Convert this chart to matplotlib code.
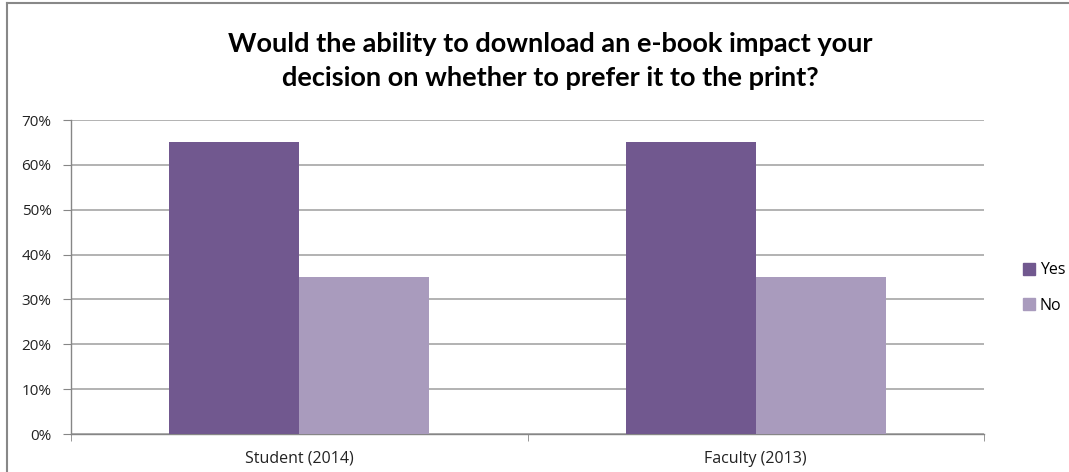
import matplotlib
matplotlib.use("Agg")
import matplotlib.pyplot as plt
import numpy as np
from matplotlib.lines import Line2D

categories = ["Student (2014)", "Faculty (2013)"]
series_names = ["Yes", "No"]
yes_values = [0.65, 0.65]
no_values = [0.35, 0.35]
y_ticks = [0, 0.1, 0.2, 0.3, 0.4, 0.5, 0.6, 0.7]
y_tick_labels = ["0%", "10%", "20%", "30%", "40%", "50%", "60%", "70%"]
title = "Would the ability to download an e-book impact your\ndecision on whether to prefer it to the print?"

colors = ["#71588F", "#A99BBD"]

fig = plt.figure(figsize=(10.69, 4.72), dpi=100)
ax = fig.add_axes([71/1069, 1-434/472, (984-71)/1069, (434-120)/472])

x = np.arange(len(categories))
w = 0.285
ax.bar(x - w/2, yes_values, width=w, color=colors[0], label=series_names[0], zorder=3)
ax.bar(x + w/2, no_values, width=w, color=colors[1], label=series_names[1], zorder=3)

ax.set_xlim(-0.5, len(categories) - 0.5)
ax.set_ylim(0, 0.7)
ax.set_yticks(y_ticks)
ax.set_yticklabels(y_tick_labels, fontsize=11, family="Open Sans", color="#222222")
ax.set_xticks(x)
ax.set_xticklabels(categories, fontsize=11.5, family="Open Sans", color="#222222")
ax.set_xticks(np.arange(-0.5, len(categories), 1.0), minor=True)
ax.tick_params(axis="x", which="major", length=0, pad=12)
ax.tick_params(axis="x", which="minor", length=5, color="#868686", direction="out")
ax.tick_params(axis="y", length=6, color="#868686", direction="out", pad=8)

ax.grid(axis="y", color="#A6A6A6", linewidth=1.2, zorder=0)
for s in ["top", "right"]:
    ax.spines[s].set_visible(False)
for s in ["left", "bottom"]:
    ax.spines[s].set_color("#868686")
    ax.spines[s].set_linewidth(1.0)

handles = [Line2D([0], [0], marker="s", linestyle="", markersize=8,
                  markerfacecolor=c, markeredgecolor=c) for c in colors]
leg = fig.legend(handles, series_names, loc="center left",
                 bbox_to_anchor=(1008/1069, 1-288/472), frameon=False,
                 prop={"family": "Open Sans", "size": 11.5},
                 handlelength=0.8, handletextpad=0.3, labelspacing=1.2)

fig.text(550/1069, 1-61/472, title, ha="center", va="center", fontsize=19.5,
         fontweight="bold", family="Lato", linespacing=1.55)

# outer chart border (left and top visible)
fig.add_artist(Line2D([7/1069, 7/1069], [0, 1-3/472], transform=fig.transFigure,
                      color="#888888", linewidth=1.5))
fig.add_artist(Line2D([7/1069, 1], [1-3/472, 1-3/472], transform=fig.transFigure,
                      color="#888888", linewidth=1.5))

fig.savefig("out.png", dpi=100)
